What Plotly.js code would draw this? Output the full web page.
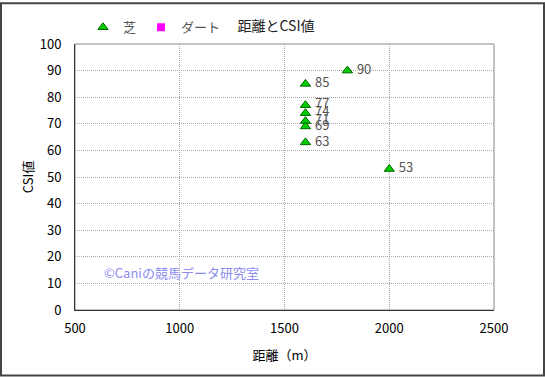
<!DOCTYPE html>
<html><head><meta charset="utf-8">
<script src="https://cdn.plot.ly/plotly-3.0.1.min.js"></script>
<style>html,body{margin:0;padding:0;background:#fff}</style>
</head><body>
<div id="chart" style="width:545px;height:377px"></div>
<script>
const turfDistance = [1600, 1600, 1600, 1600, 1600, 1600, 1800, 2000];
const turfCSI = [85, 77, 74, 71, 69, 63, 90, 53];
const dirtDistance = [];
const dirtCSI = [];
const xTicks = [500, 1000, 1500, 2000, 2500];
const yTicks = [0, 10, 20, 30, 40, 50, 60, 70, 80, 90, 100];

const FONT = '"Noto Sans CJK JP", "Noto Sans", sans-serif';
const traces = [
  {
    type: 'scatter', mode: 'markers+text', name: '芝',
    x: turfDistance, y: turfCSI,
    text: turfCSI.map(v => ' ' + v), textposition: 'middle right',
    textfont: {family: FONT, size: 13, color: '#555'},
    marker: {symbol: 'triangle-up', size: 9, color: '#00cc00', line: {color: '#006600', width: 1}},
    cliponaxis: false
  },
  {
    type: 'scatter', mode: 'markers', name: 'ダート',
    x: dirtDistance.length ? dirtDistance : [null], y: dirtCSI.length ? dirtCSI : [null],
    marker: {symbol: 'square', size: 8, color: '#ff00ff'}
  }
];
const L = 75, R = 494, T = 42, B = 310;
const W = R - L, H = B - T;
const layout = {
  width: 545, height: 377,
  margin: {l: L, r: 545 - R, t: T, b: 377 - B},
  paper_bgcolor: '#fff', plot_bgcolor: '#fff',
  font: {family: FONT, size: 12, color: '#000'},
  title: {text: '距離とCSI値', x: 276 / 545, xanchor: 'center', y: 1 - 26/377, yanchor: 'middle', font: {family: FONT, size: 14, color: '#222'}},
  showlegend: true,
  legend: {orientation: 'h', x: (83 - L) / W, xanchor: 'left', y: 1 + (T - 10) / H, yanchor: 'top',
           font: {family: FONT, size: 13, color: '#555'}, itemwidth: 30,
           tracegroupgap: 0, bgcolor: 'rgba(0,0,0,0)', borderwidth: 0},
  xaxis: {
    range: [500, 2500], tickvals: xTicks, ticktext: xTicks.map(String),
    showgrid: true, gridcolor: '#a8a8a8', griddash: '1px,1px', gridwidth: 1,
    zeroline: false, showline: true, linecolor: '#333', linewidth: 1, ticks: '',
    ticklabelstandoff: 6,
    tickfont: {family: FONT, size: 13, color: '#000'},
    title: {text: '距離（m）', font: {family: FONT, size: 13, color: '#000'}, standoff: 15}
  },
  yaxis: {
    range: [0, 100], tickvals: yTicks, ticktext: yTicks.map(String),
    showgrid: true, gridcolor: '#a8a8a8', griddash: '1px,1px', gridwidth: 1,
    zeroline: false, showline: true, linecolor: '#333', linewidth: 1, ticks: '',
    ticklabelstandoff: 10,
    tickfont: {family: FONT, size: 13, color: '#000'},
    title: {text: 'CSI値', font: {family: FONT, size: 13, color: '#000'}, standoff: 3}
  },
  shapes: [
    {type: 'rect', xref: 'paper', yref: 'paper', x0: 0, x1: 1, y0: 0, y1: 1, line: {color: '#888', width: 1}, layer: 'below'},
    {type: 'rect', xref: 'paper', yref: 'paper', x0: (1 - L) / W, x1: (544 - L) / W, y0: (B - 376) / H, y1: (B - 1) / H, line: {color: '#444', width: 2}}
  ],
  annotations: [
    {text: '©Caniの競馬データ研究室', xref: 'paper', yref: 'paper', x: (102 - L) / W, xanchor: 'left', y: (B - 272) / H, yanchor: 'middle',
     showarrow: false, font: {family: FONT, size: 13, color: '#8c8cf0'}}
  ]
};
Plotly.newPlot('chart', traces, layout, {displayModeBar: false, staticPlot: true});
</script>
</body></html>
